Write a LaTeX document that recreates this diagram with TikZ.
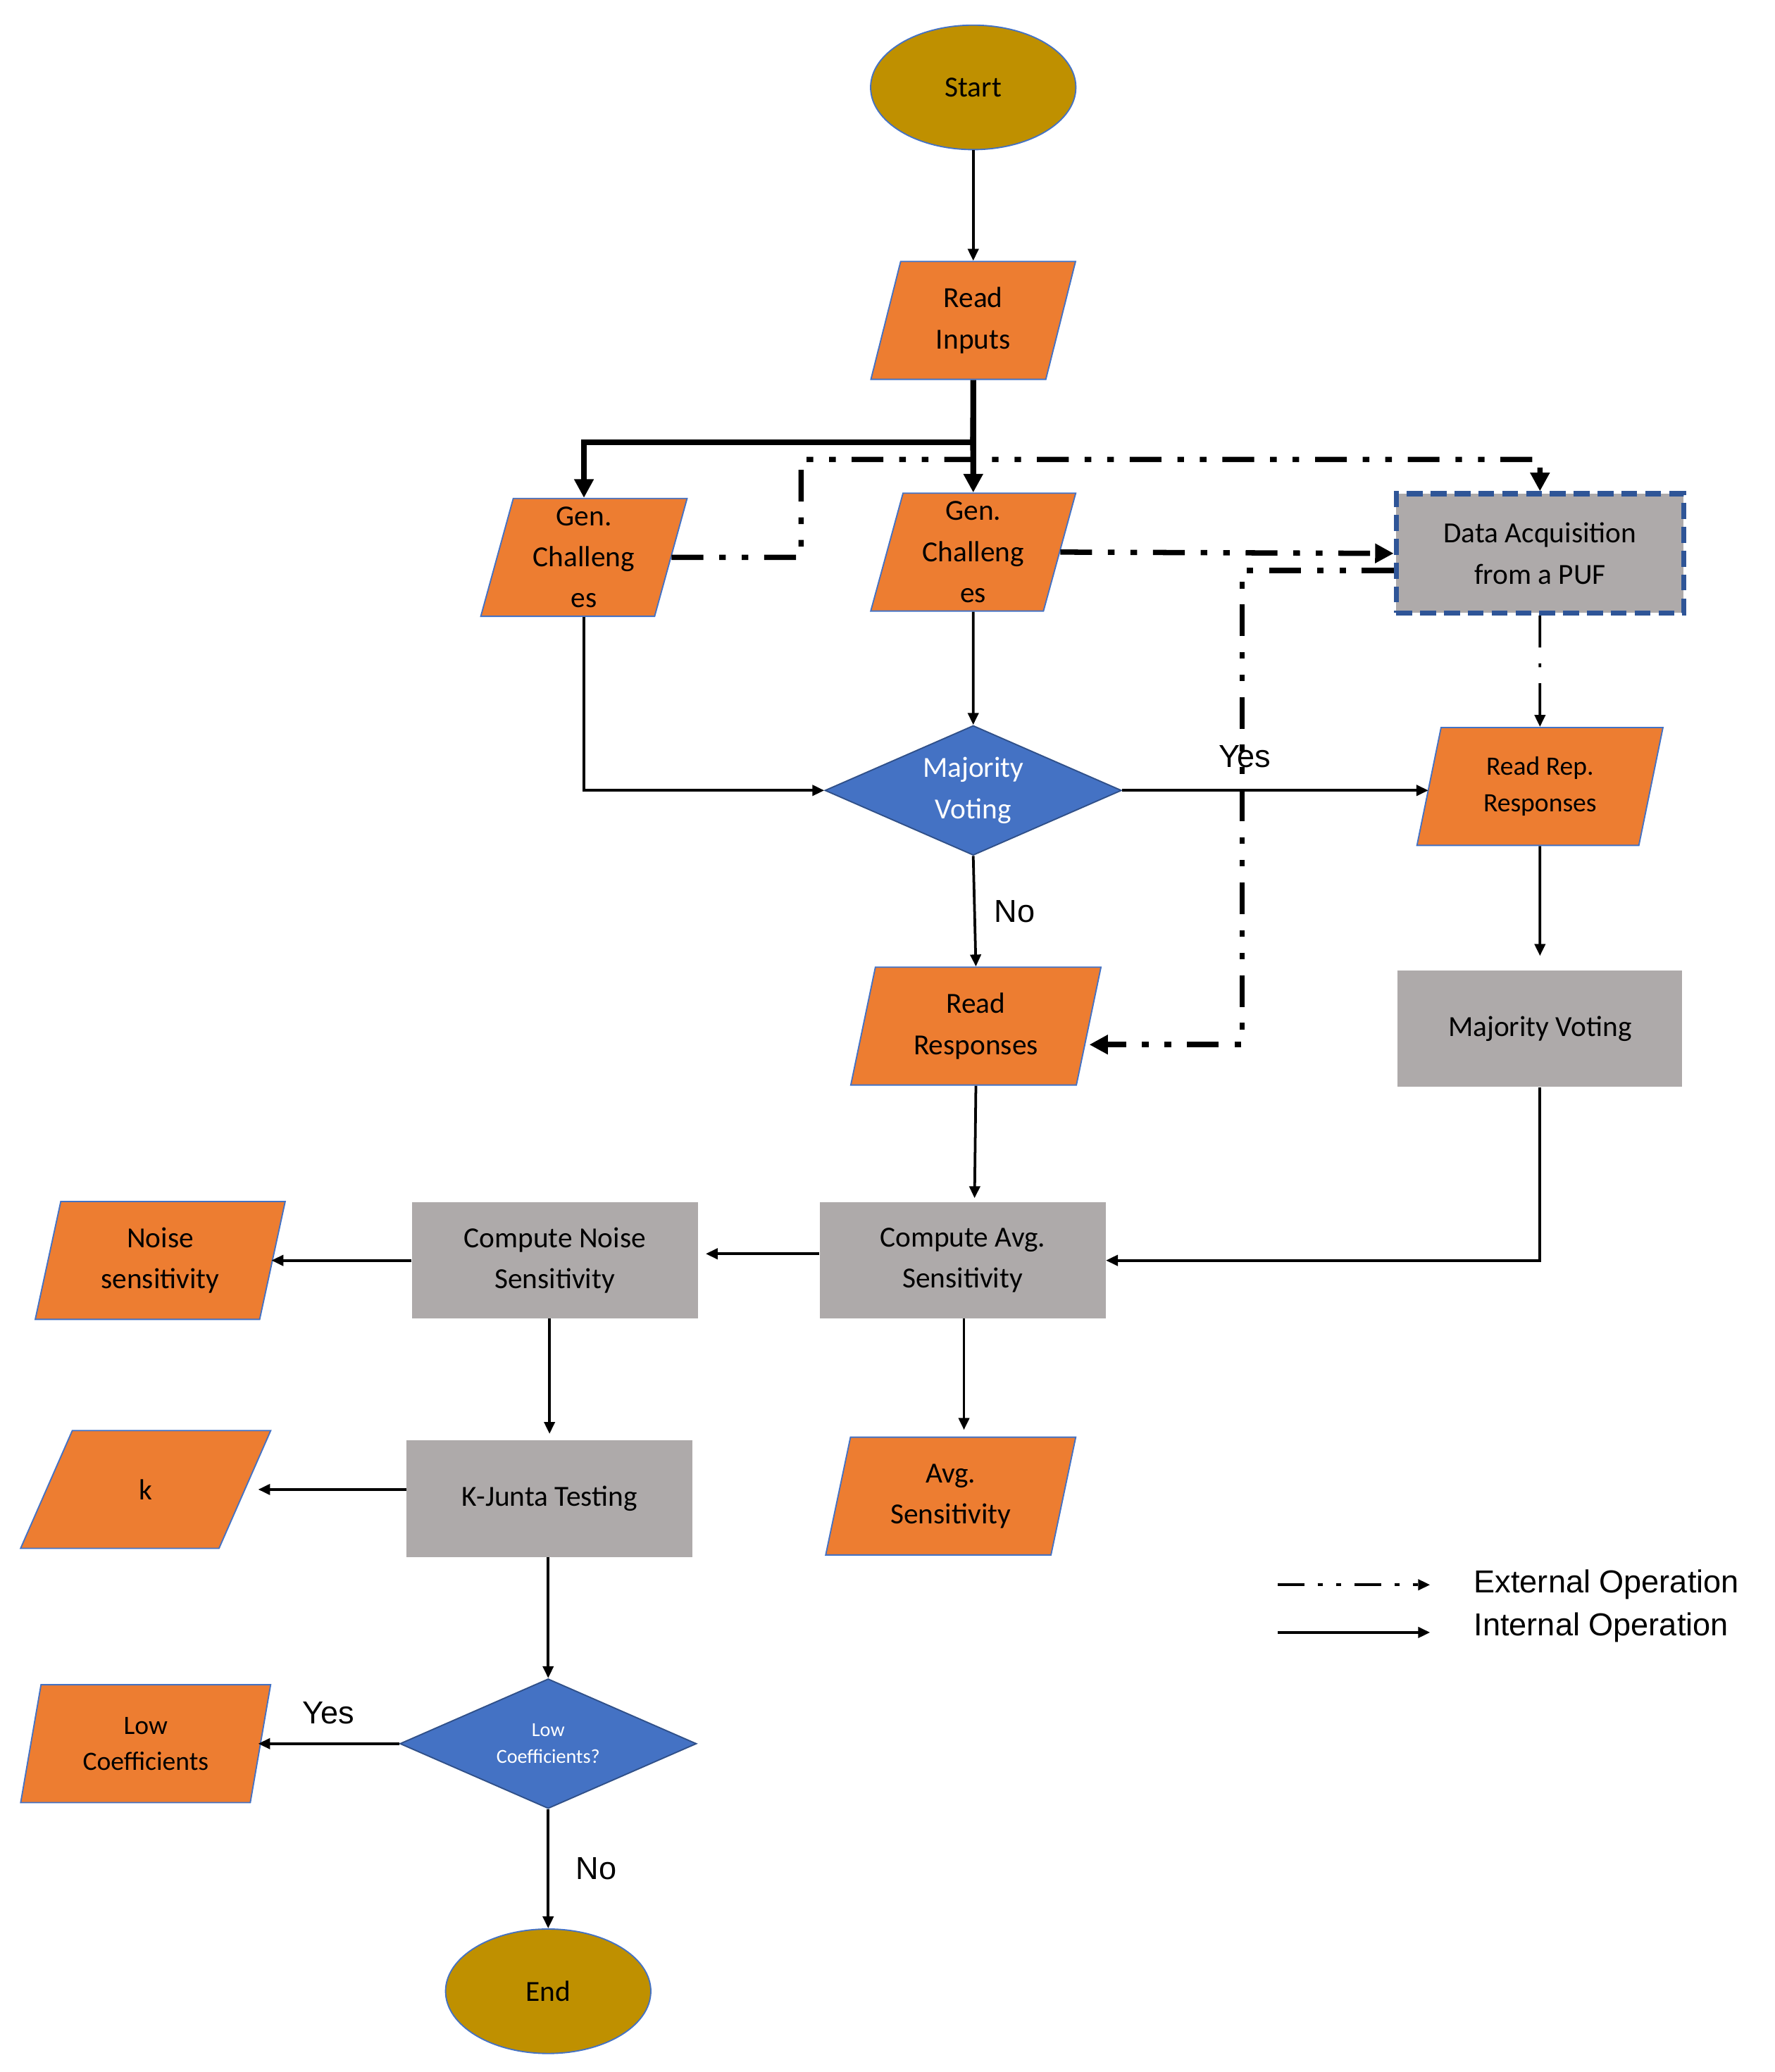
\documentclass[tikz,border=0pt]{standalone}
\usepackage{fontspec}
\setmainfont{Carlito}
\newfontfamily\arialf{Liberation Sans}
\usetikzlibrary{shapes.geometric,arrows.meta}
\definecolor{olive}{HTML}{BF9000}
\definecolor{org}{HTML}{ED7D31}
\definecolor{blu}{HTML}{4472C4}
\definecolor{gry}{HTML}{AEAAAA}
\definecolor{dblu}{HTML}{2F5597}
\begin{document}
\begin{tikzpicture}[x=1pt,y=-1pt,
  every node/.style={font=\fontsize{22}{31}\selectfont, align=center, inner sep=0pt},
  term/.style={ellipse, draw=blu, line width=1pt, fill=olive, minimum width=155, minimum height=94},
  io/.style={trapezium, trapezium left angle=77, trapezium right angle=103, trapezium stretches=true, draw=blu, line width=1pt, fill=org, minimum width=189, minimum height=89},
  proc/.style={rectangle, fill=gry, minimum width=216, minimum height=88},
  dec/.style={diamond, aspect=2.27, fill=blu, draw=blu!70!black, line width=1pt, text=white, minimum width=224, minimum height=98},
  ar/.style={-{Triangle[length=9,width=8]}},
  thin/.style={line width=2pt, ar},
  thick/.style={line width=4.5pt, -{Triangle[length=14,width=14]}},
  ext/.style={line width=4pt, dash pattern=on 24 off 12 on 5 off 12 on 5 off 12, -{Triangle[length=14,width=14]}},
  lab/.style={font=\arialf\fontsize{24}{28}\selectfont}
]
\useasboundingbox (0,0) rectangle (1340,1565);
\node[term] (start) at (735,66) {Start};
\node[io, minimum width=155] (ri) at (735,242) {Read\\Inputs};
\node[io, minimum width=156] (gl) at (441,421) {Gen.\\Challeng\\es};
\node[io, minimum width=155] (gm) at (735,417) {Gen.\\Challeng\\es};
\node[proc, minimum width=217, minimum height=90, draw=dblu, line width=4pt, dash pattern=on 12 off 6] (da) at (1163,418) {Data Acquisition\\from a PUF};
\node[dec] (mv) at (735,597) {Majority\\Voting};
\node[io, minimum width=186, font=\fontsize{20}{28}\selectfont] (rr) at (1163,594) {Read Rep.\\Responses};
\node[io] (rs) at (737,775) {Read\\Responses};
\node[proc, minimum width=215] (mvr) at (1163,777) {Majority Voting};
\node[proc] (ca) at (727,952) {Compute Avg.\\Sensitivity};
\node[proc] (cn) at (419,952) {Compute Noise\\Sensitivity};
\node[io] (ns) at (121,952) {Noise\\sensitivity};
\node[proc] (kj) at (415,1132) {K-Junta Testing};
\node[io] (k) at (110,1125) {k};
\node[io] (as) at (718,1130) {Avg.\\Sensitivity};
\node[dec, font=\fontsize{15}{20}\selectfont] (lc) at (414,1317) {Low\\Coefficients?};
\node[io, font=\fontsize{20}{27}\selectfont] (lcp) at (110,1317) {Low\\Coefficients};
\node[term] (end) at (414,1504) {End};

\draw[thin] (start) -- (ri);
\draw[line width=4.5pt] (ri.south) -- (735,334);
\draw[thick] (735,334) -| (gl.north);
\draw[thick] (735,330) -- (gm.north);
\draw[ext] (gl.east) -- (605,421) |- (1163,347) -- (da.north);
\draw[ext] (gm.east) -- (da.west);
\draw[ext] (da.west |- 0,431) -| (938,789) -- (rs.east |- 0,789);
\draw[line width=2pt, dash pattern=on 24 off 12 on 3 off 12, ar] (da.south) -- (rr.north);
\draw[thin] (gl.south) |- (mv.west);
\draw[thin] (gm.south) -- (mv.north);
\draw[thin] (mv.east) -- (rr.west |- mv.east) node[lab, pos=0.4, above=16pt] {Yes};
\draw[thin] (mv.south) -- (rs.north) node[lab, midway, right=14pt] {No};
\draw[thin] (rr.south) -- (1163,722);
\draw[thin] (rs.south) -- (736,905);
\draw[thin] (mvr.south) |- (ca.east);
\draw[thin] (ca.west |- 0,947) -- (533,947);
\draw[thin] (cn.west) -- (205,952);
\draw[thin] (415,996) -- (415,1083);
\draw[thin] (728,996) -- (728,1080);
\draw[thin] (kj.west |- 0,1125) -- (195,1125);
\draw[thin] (414,1176) -- (lc.north);
\draw[thin] (lc.west) -- (195,1317) node[lab, pos=0.5, above=14pt] {Yes};
\draw[thin] (lc.south) -- (end.north) node[lab, pos=0.5, right=20pt] {No};

\coordinate (l1a) at (965,1197); \coordinate (l1b) at (1080,1197);
\coordinate (l2a) at (965,1233); \coordinate (l2b) at (1080,1233);
\draw[line width=2pt, dash pattern=on 20 off 10 on 4 off 10 on 4 off 10, ar] (l1a) -- (l1b);
\draw[thin] (l2a) -- (l2b);
\node[lab, anchor=west] (le) at (1113,1197) {External Operation};
\node[lab, anchor=west] (li) at (1113,1229) {Internal Operation};
\end{tikzpicture}
\end{document}
